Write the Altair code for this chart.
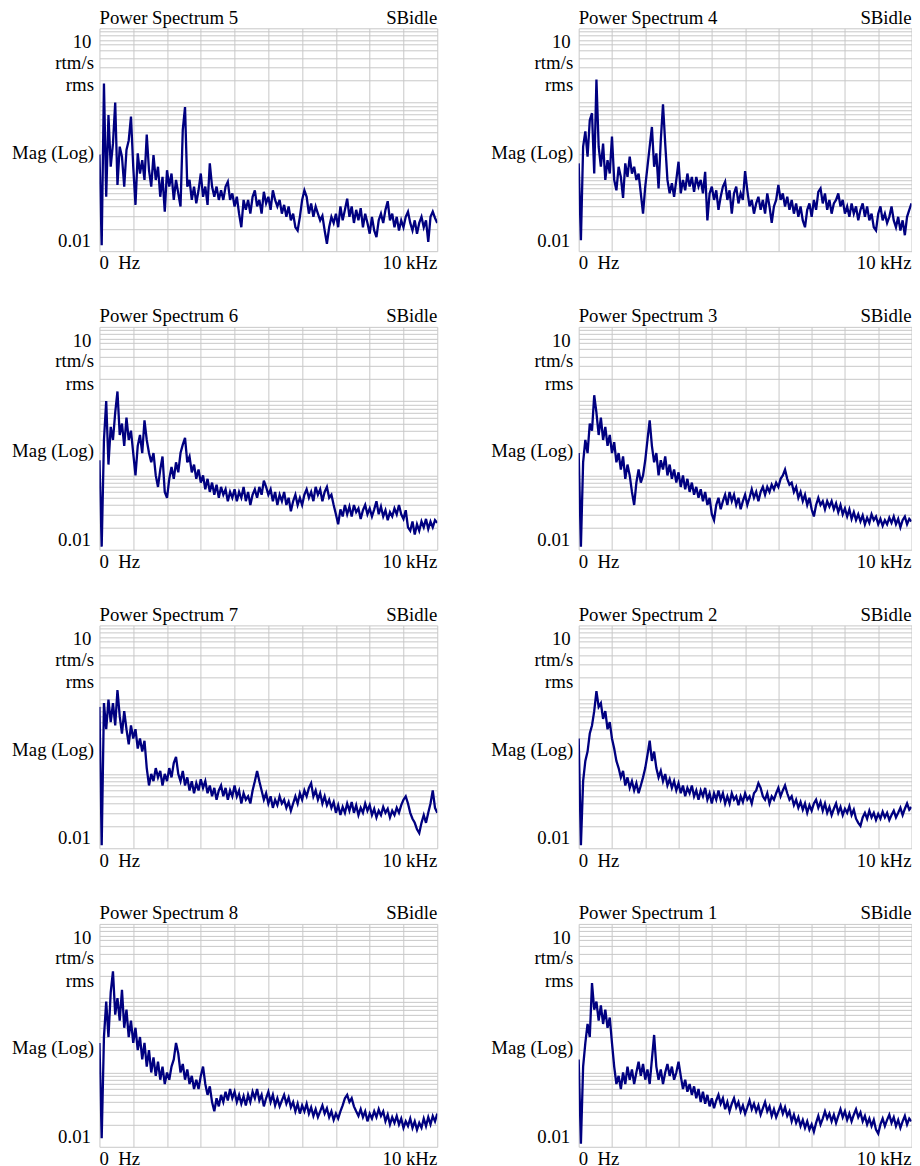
import altair as alt
import pandas as pd

# ---- data (magnitudes, rtm/s rms; 0 .. 10 kHz) ----
ps5 = [0.2, 0.012, 1.8, 0.054, 0.68, 0.137, 0.28, 1.0, 0.078, 0.255,
       0.187, 0.074, 0.23, 0.31, 0.65, 0.137, 0.042, 0.207, 0.111, 0.168,
       0.091, 0.37, 0.123, 0.074, 0.197, 0.091, 0.137, 0.054, 0.100, 0.034,
       0.123, 0.074, 0.111, 0.049, 0.091, 0.060, 0.040, 0.43, 0.87, 0.074,
       0.091, 0.049, 0.074, 0.044, 0.066, 0.111, 0.054, 0.074, 0.042, 0.152,
       0.074, 0.054, 0.074, 0.049, 0.066, 0.049, 0.074, 0.086, 0.049, 0.060,
       0.040, 0.054, 0.032, 0.021, 0.049, 0.036, 0.049, 0.032, 0.054, 0.066,
       0.040, 0.049, 0.032, 0.063, 0.044, 0.054, 0.036, 0.066, 0.049, 0.040,
       0.049, 0.032, 0.042, 0.029, 0.040, 0.026, 0.032, 0.021, 0.019, 0.029,
       0.049, 0.066, 0.054, 0.032, 0.044, 0.029, 0.040, 0.032, 0.026, 0.030,
       0.019, 0.0126, 0.021, 0.029, 0.024, 0.032, 0.021, 0.040, 0.026, 0.036,
       0.051, 0.029, 0.040, 0.024, 0.036, 0.026, 0.038, 0.021, 0.032, 0.024,
       0.0172, 0.029, 0.019, 0.0155, 0.026, 0.032, 0.024, 0.036, 0.047, 0.026,
       0.032, 0.021, 0.029, 0.019, 0.026, 0.021, 0.029, 0.034, 0.024, 0.019,
       0.026, 0.0172, 0.024, 0.029, 0.021, 0.026, 0.0133, 0.029, 0.034, 0.028,
       0.024]

ps4 = [0.152, 0.014, 0.255, 0.41, 0.187, 0.58, 0.72, 0.111, 2.05, 0.255,
       0.137, 0.28, 0.091, 0.168, 0.111, 0.35, 0.091, 0.066, 0.137, 0.100,
       0.052, 0.152, 0.100, 0.187, 0.111, 0.137, 0.091, 0.111, 0.060, 0.032,
       0.074, 0.137, 0.255, 0.47, 0.137, 0.207, 0.070, 0.31, 0.95, 0.28,
       0.091, 0.060, 0.082, 0.054, 0.091, 0.16, 0.060, 0.091, 0.066, 0.111,
       0.074, 0.100, 0.063, 0.100, 0.074, 0.091, 0.060, 0.117, 0.026, 0.060,
       0.074, 0.049, 0.066, 0.036, 0.054, 0.074, 0.086, 0.049, 0.066, 0.032,
       0.060, 0.074, 0.044, 0.060, 0.049, 0.12, 0.066, 0.040, 0.049, 0.032,
       0.044, 0.054, 0.036, 0.049, 0.032, 0.060, 0.040, 0.024, 0.040, 0.049,
       0.078, 0.049, 0.060, 0.040, 0.054, 0.036, 0.049, 0.032, 0.044, 0.029,
       0.040, 0.026, 0.021, 0.036, 0.044, 0.029, 0.049, 0.036, 0.063, 0.070,
       0.044, 0.060, 0.036, 0.049, 0.032, 0.044, 0.049, 0.060, 0.040, 0.049,
       0.032, 0.040, 0.029, 0.044, 0.032, 0.040, 0.026, 0.036, 0.044, 0.029,
       0.040, 0.026, 0.032, 0.021, 0.019, 0.032, 0.040, 0.026, 0.032, 0.024,
       0.029, 0.040, 0.026, 0.021, 0.029, 0.019, 0.026, 0.0164, 0.029, 0.036,
       0.044]

ps6 = [0.16, 0.011, 0.3, 1.0, 0.14, 0.45, 0.3, 0.7, 1.35, 0.35,
       0.5, 0.25, 0.6, 0.3, 0.4, 0.2, 0.1, 0.25, 0.35, 0.2,
       0.55, 0.3, 0.2, 0.15, 0.2, 0.1, 0.07, 0.12, 0.18, 0.06,
       0.05, 0.09, 0.13, 0.09, 0.15, 0.11, 0.2, 0.26, 0.32, 0.15,
       0.18, 0.11, 0.14, 0.09, 0.12, 0.08, 0.1, 0.065, 0.09, 0.06,
       0.08, 0.055, 0.075, 0.05, 0.07, 0.055, 0.065, 0.045, 0.06, 0.05,
       0.065, 0.045, 0.06, 0.05, 0.07, 0.045, 0.06, 0.04, 0.055, 0.065,
       0.05, 0.07, 0.055, 0.085, 0.07, 0.055, 0.065, 0.045, 0.06, 0.04,
       0.055, 0.045, 0.06, 0.04, 0.05, 0.033, 0.045, 0.055, 0.04, 0.05,
       0.04, 0.055, 0.065, 0.05, 0.06, 0.045, 0.07, 0.055, 0.065, 0.045,
       0.06, 0.07, 0.05, 0.055, 0.04, 0.03, 0.022, 0.035, 0.028, 0.04,
       0.03, 0.038, 0.028, 0.04, 0.032, 0.036, 0.026, 0.034, 0.04, 0.03,
       0.036, 0.028, 0.035, 0.045, 0.03, 0.038, 0.028, 0.034, 0.025, 0.032,
       0.028, 0.036, 0.03, 0.04, 0.03, 0.026, 0.034, 0.02, 0.018, 0.024,
       0.016, 0.022, 0.018, 0.024, 0.02, 0.026, 0.019, 0.024, 0.02, 0.025,
       0.023]

ps3 = [0.2, 0.011, 0.15, 0.3, 0.2, 0.5, 0.4, 1.2, 0.7, 0.35,
       0.6, 0.3, 0.45, 0.25, 0.35, 0.2, 0.28, 0.15, 0.2, 0.12,
       0.18, 0.09, 0.14, 0.1, 0.06, 0.04, 0.08, 0.12, 0.08, 0.1,
       0.16, 0.3, 0.55, 0.25, 0.15, 0.2, 0.1, 0.16, 0.12, 0.18,
       0.1, 0.14, 0.09, 0.12, 0.08, 0.11, 0.07, 0.1, 0.065, 0.09,
       0.06, 0.08, 0.055, 0.07, 0.05, 0.065, 0.045, 0.06, 0.04, 0.05,
       0.03, 0.025, 0.04, 0.05, 0.035, 0.045, 0.055, 0.04, 0.06, 0.045,
       0.055, 0.04, 0.05, 0.035, 0.045, 0.055, 0.04, 0.05, 0.065, 0.05,
       0.06, 0.045, 0.06, 0.07, 0.055, 0.07, 0.06, 0.075, 0.065, 0.08,
       0.07, 0.09, 0.1, 0.12, 0.09, 0.075, 0.08, 0.06, 0.07, 0.05,
       0.06, 0.045, 0.055, 0.04, 0.05, 0.035, 0.028, 0.04, 0.05, 0.04,
       0.045, 0.035, 0.045, 0.038, 0.045, 0.035, 0.042, 0.032, 0.04, 0.03,
       0.036, 0.028, 0.035, 0.026, 0.032, 0.025, 0.03, 0.024, 0.029, 0.022,
       0.027, 0.023, 0.03, 0.025, 0.028, 0.022, 0.026, 0.021, 0.025, 0.022,
       0.027, 0.023, 0.028, 0.022, 0.026, 0.02, 0.025, 0.028, 0.022, 0.026,
       0.024]

ps7 = [0.8, 0.011, 0.9, 0.4, 1.0, 0.5, 0.9, 0.45, 1.35, 0.6,
       0.35, 0.7, 0.4, 0.25, 0.45, 0.3, 0.4, 0.22, 0.3, 0.2,
       0.28, 0.12, 0.07, 0.1, 0.08, 0.12, 0.09, 0.11, 0.07, 0.1,
       0.08, 0.12, 0.09, 0.14, 0.17, 0.1, 0.08, 0.11, 0.07, 0.09,
       0.06, 0.08, 0.055, 0.075, 0.06, 0.085, 0.065, 0.08, 0.055, 0.07,
       0.05, 0.065, 0.045, 0.06, 0.07, 0.05, 0.065, 0.045, 0.06, 0.05,
       0.07, 0.05, 0.06, 0.04, 0.055, 0.045, 0.05, 0.04, 0.06, 0.08,
       0.11, 0.08, 0.06, 0.045, 0.055, 0.04, 0.05, 0.035, 0.045, 0.038,
       0.05, 0.04, 0.045, 0.035, 0.042, 0.032, 0.04, 0.05, 0.04, 0.055,
       0.045, 0.06, 0.05, 0.065, 0.075, 0.05, 0.06, 0.045, 0.055, 0.04,
       0.05, 0.038, 0.045, 0.035, 0.042, 0.03, 0.038, 0.028, 0.036, 0.03,
       0.04, 0.032, 0.042, 0.03, 0.038, 0.028, 0.035, 0.03, 0.04, 0.032,
       0.038, 0.028, 0.034, 0.026, 0.032, 0.028, 0.036, 0.03, 0.034, 0.026,
       0.032, 0.028, 0.035, 0.03, 0.038, 0.045, 0.05, 0.04, 0.03, 0.025,
       0.022, 0.018, 0.016, 0.022, 0.028, 0.022, 0.03, 0.04, 0.06, 0.035,
       0.03]

ps2 = [0.3, 0.011, 0.08, 0.15, 0.2, 0.35, 0.45, 0.7, 1.3, 0.8,
       0.9, 0.55, 0.7, 0.4, 0.5, 0.3, 0.22, 0.15, 0.12, 0.09,
       0.11, 0.07, 0.09, 0.065, 0.08, 0.06, 0.075, 0.055, 0.07, 0.09,
       0.12, 0.18, 0.28, 0.15, 0.2, 0.12, 0.09, 0.11, 0.08, 0.1,
       0.07, 0.085, 0.065, 0.08, 0.06, 0.075, 0.055, 0.07, 0.05, 0.065,
       0.055, 0.07, 0.05, 0.06, 0.045, 0.06, 0.05, 0.065, 0.045, 0.055,
       0.04, 0.055, 0.045, 0.06, 0.045, 0.055, 0.04, 0.05, 0.04, 0.055,
       0.045, 0.05, 0.038, 0.05, 0.042, 0.055, 0.045, 0.05, 0.04, 0.055,
       0.06, 0.075, 0.065, 0.05, 0.045, 0.055, 0.04, 0.05, 0.045, 0.055,
       0.065, 0.05, 0.06, 0.07, 0.055, 0.045, 0.05, 0.038, 0.045, 0.035,
       0.042, 0.033, 0.04, 0.03, 0.038, 0.032, 0.04, 0.045, 0.035, 0.042,
       0.032, 0.04, 0.03, 0.036, 0.028, 0.034, 0.04, 0.03, 0.036, 0.028,
       0.034, 0.03, 0.037, 0.028, 0.033, 0.025, 0.022, 0.02, 0.026, 0.03,
       0.025, 0.032, 0.026, 0.03, 0.024, 0.029, 0.025, 0.031, 0.026, 0.03,
       0.024, 0.028, 0.032, 0.026, 0.03, 0.035, 0.028, 0.034, 0.04, 0.033,
       0.036]

ps8 = [0.25, 0.013, 0.3, 0.9, 0.3, 1.2, 2.3, 0.6, 1.0, 0.5,
       1.3, 0.4, 0.7, 0.3, 0.5, 0.25, 0.4, 0.2, 0.3, 0.15,
       0.25, 0.12, 0.2, 0.1, 0.16, 0.09, 0.14, 0.08, 0.12, 0.07,
       0.1, 0.08, 0.12, 0.15, 0.25, 0.18, 0.1, 0.13, 0.08, 0.11,
       0.07, 0.09, 0.06, 0.08, 0.06, 0.09, 0.12, 0.07, 0.05, 0.065,
       0.04, 0.03, 0.045, 0.035, 0.05, 0.04, 0.055, 0.042, 0.06, 0.045,
       0.055, 0.04, 0.05, 0.038, 0.048, 0.036, 0.05, 0.04, 0.055, 0.045,
       0.06, 0.042, 0.05, 0.035, 0.045, 0.055, 0.04, 0.05, 0.036, 0.045,
       0.035, 0.042, 0.05, 0.038, 0.046, 0.034, 0.04, 0.03, 0.038, 0.028,
       0.036, 0.03, 0.038, 0.028, 0.034, 0.026, 0.032, 0.025, 0.03, 0.036,
       0.028, 0.033, 0.025, 0.03, 0.023, 0.028, 0.024, 0.03, 0.036, 0.045,
       0.05, 0.04, 0.045, 0.035, 0.03, 0.026, 0.032, 0.025, 0.03, 0.022,
       0.028, 0.024, 0.03, 0.025, 0.032, 0.026, 0.03, 0.022, 0.027, 0.02,
       0.025, 0.021, 0.026, 0.02, 0.024, 0.018, 0.022, 0.019, 0.024, 0.018,
       0.022, 0.017, 0.021, 0.018, 0.024, 0.019, 0.025, 0.02, 0.026, 0.022,
       0.028]

ps1 = [0.15, 0.011, 0.12, 0.25, 0.45, 0.3, 1.6, 0.7, 0.9, 0.5,
       0.8, 0.45, 0.7, 0.4, 0.55, 0.25, 0.12, 0.07, 0.09, 0.06,
       0.1, 0.07, 0.12, 0.08, 0.11, 0.07, 0.1, 0.14, 0.09, 0.13,
       0.08, 0.11, 0.07, 0.15, 0.32, 0.12, 0.08, 0.11, 0.07, 0.1,
       0.13, 0.09, 0.12, 0.08, 0.1, 0.14, 0.09, 0.06, 0.08, 0.055,
       0.07, 0.05, 0.065, 0.045, 0.06, 0.04, 0.055, 0.038, 0.05, 0.035,
       0.045, 0.033, 0.042, 0.05, 0.038, 0.045, 0.032, 0.04, 0.03, 0.038,
       0.045, 0.034, 0.04, 0.03, 0.036, 0.028, 0.034, 0.042, 0.032, 0.038,
       0.03, 0.036, 0.027, 0.033, 0.04, 0.03, 0.035, 0.026, 0.032, 0.025,
       0.03, 0.036, 0.028, 0.034, 0.026, 0.03, 0.022, 0.027, 0.021, 0.025,
       0.019, 0.023, 0.018, 0.022, 0.017, 0.02, 0.016, 0.021, 0.026, 0.02,
       0.024, 0.03, 0.024, 0.028, 0.022, 0.027, 0.021, 0.026, 0.032, 0.025,
       0.03, 0.023, 0.028, 0.022, 0.027, 0.032, 0.025, 0.029, 0.022, 0.026,
       0.02, 0.024, 0.019, 0.023, 0.017, 0.015, 0.02, 0.024, 0.019, 0.023,
       0.027, 0.021, 0.025, 0.019, 0.023, 0.018, 0.022, 0.026, 0.02, 0.024,
       0.022]

# panel order, row by row (left, right)
panel_order = [(5, ps5), (4, ps4),
               (6, ps6), (3, ps3),
               (7, ps7), (2, ps2),
               (8, ps8), (1, ps1)]

x_ticks = [0, 1000, 2000, 3000, 4000, 5000, 6000, 7000, 8000, 9000, 10000]
y_grid = [m * 10.0 ** e for e in (-2, -1, 0) for m in range(1, 10)] + [10.0]

W_LEFT, W_RIGHT, H = 338, 333, 223
FONT = "Liberation Serif"
FS = 18.8
NBSP = "\u00a0"


def label(text, x, y, align):
    return alt.Chart(pd.DataFrame({"t": [text]})).mark_text(
        align=align, baseline="alphabetic", font=FONT, fontSize=FS, color="black"
    ).encode(x=alt.value(x), y=alt.value(y), text="t:N")


def panel(n, values, w):
    count = len(values)
    freq = [i * 10000.0 / (count - 1) for i in range(count)]
    df = pd.DataFrame({"f": freq, "m": values})
    line = alt.Chart(df).mark_line(color="#000080", strokeWidth=2.3, clip=True).encode(
        x=alt.X("f:Q",
                scale=alt.Scale(domain=[0, 10000], nice=False, zero=False),
                axis=alt.Axis(values=x_ticks, grid=True, labels=False, ticks=False,
                              domain=False, title=None, minExtent=0)),
        y=alt.Y("m:Q",
                scale=alt.Scale(type="log", domain=[0.01, 10], nice=False),
                axis=alt.Axis(values=y_grid, grid=True, labels=False, ticks=False,
                              domain=False, title=None, minExtent=0)),
    )
    texts = [
        label(f"Power Spectrum {n}", 0, -4.8, "left"),
        label("SBidle", w, -4.8, "right"),
        label("10", -8, 20, "right"),
        label("rtm/s", -5.5, 40.5, "right"),
        label("rms", -5.5, 63, "right"),
        label("Mag (Log)", -5.5, 130.5, "right"),
        label("0.01", -8.5, 219, "right"),
        label("0" + NBSP + NBSP + "Hz", 0, H + 18.3, "left"),
        label("10 kHz", w, H + 18.3, "right"),
    ]
    return alt.layer(line, *texts).properties(width=w, height=H)


charts = []
for k, (n, v) in enumerate(panel_order):
    charts.append(panel(n, v, W_LEFT if k % 2 == 0 else W_RIGHT))

chart = alt.concat(
    *charts,
    columns=2,
    spacing={"row": 75.7, "column": 141.5},
    bounds="flush",
).properties(
    padding={"left": 3.5, "top": 0, "right": 0, "bottom": 0}
).configure_view(stroke=None).configure_axis(
    gridColor="#c8c8c8", gridWidth=1, gridOpacity=1
)

chart.save("out.html", embed_options={"renderer": "svg", "actions": False})
